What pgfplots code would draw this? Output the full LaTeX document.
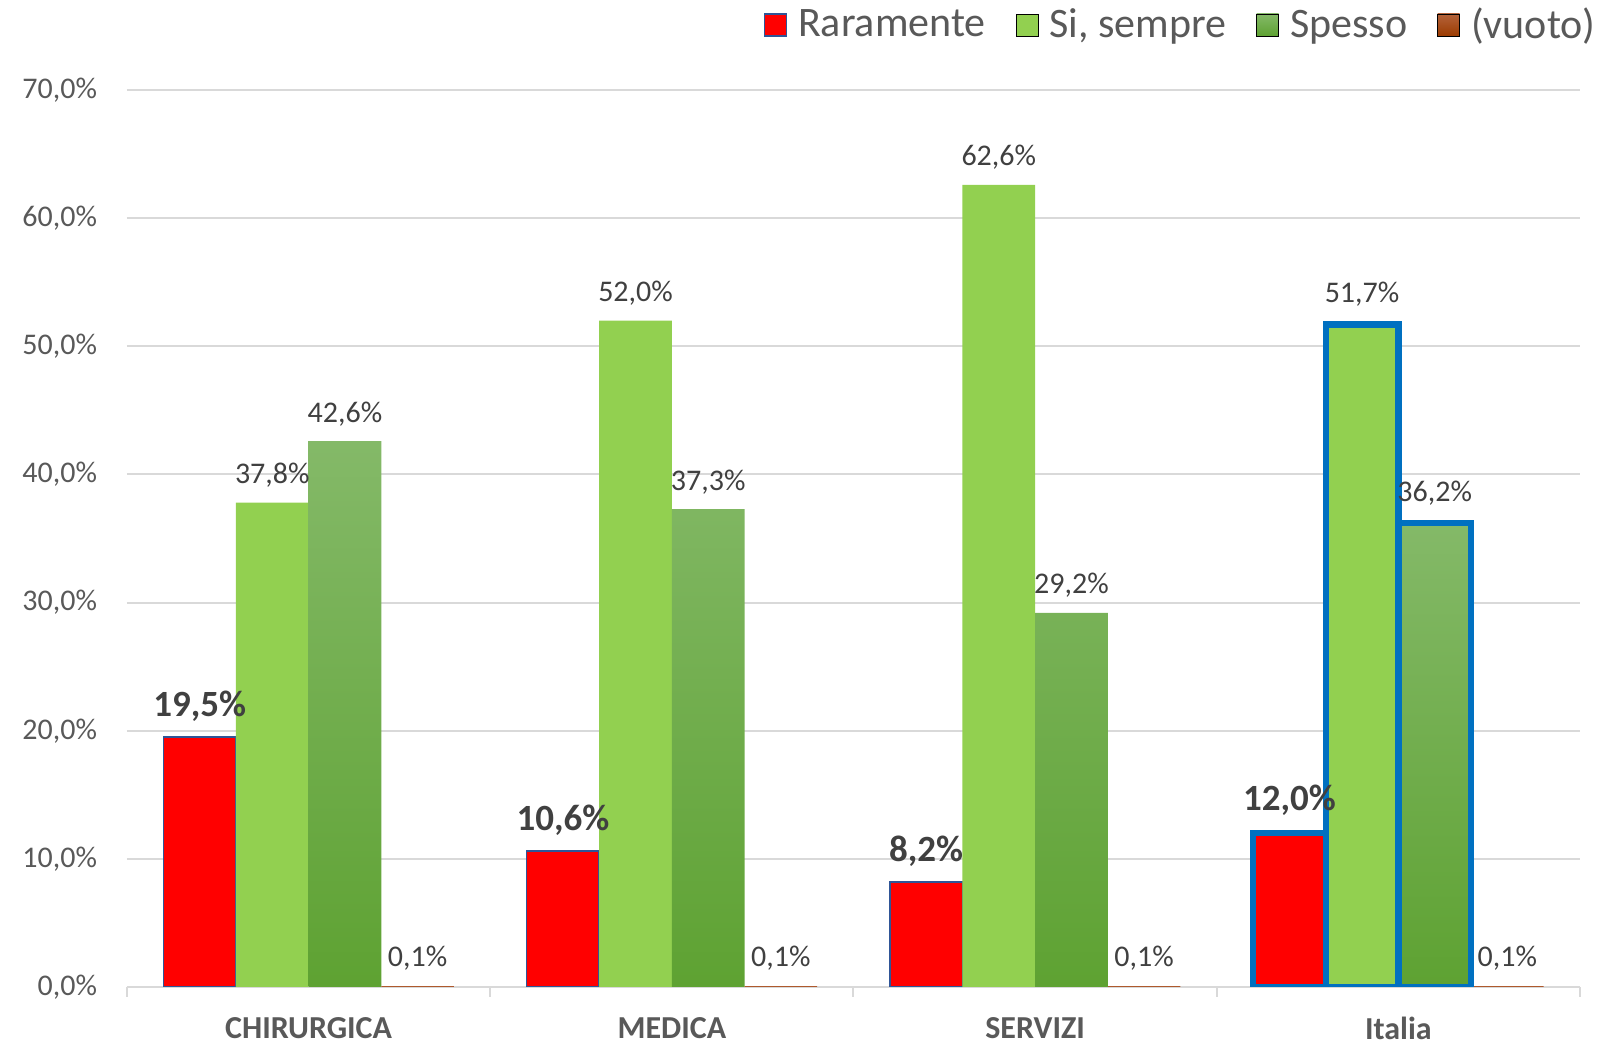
\documentclass[border=0pt]{standalone}
\usepackage{pgfplots}
\pgfplotsset{compat=1.18}
\usepackage{fontspec}
\setmainfont{Carlito}

\definecolor{rar}{HTML}{FF0000}
\definecolor{rarb}{HTML}{2F5597}
\definecolor{sem}{HTML}{92D050}
\definecolor{spT}{HTML}{84B968}
\definecolor{spB}{HTML}{5EA232}
\definecolor{vuT}{HTML}{B3623A}
\definecolor{vuB}{HTML}{9C3B00}
\definecolor{ita}{HTML}{0070C0}
\definecolor{gridc}{HTML}{D9D9D9}
\definecolor{txt}{HTML}{595959}
\definecolor{lbl}{HTML}{404040}

\begin{document}
\begin{tikzpicture}
\begin{axis}[
  scale only axis, width=726.5pt, height=448.5pt,
  xmin=-0.5, xmax=3.5, ymin=0, ymax=70,
  ybar, bar width=0.2,
  /pgf/number format/assume math mode=true,
  axis x line*=bottom, axis y line*=left,
  y axis line style={draw=none},
  x axis line style={draw=gridc, line width=1pt},
  tick align=outside,
  major tick length=0pt, minor tick length=5pt,
  xtick={0,1,2,3},
  xticklabels={CHIRURGICA,MEDICA,SERVIZI,Italia},
  minor xtick={-0.5,0.5,1.5,2.5,3.5},
  minor x tick style={draw=gridc, line width=1pt},
  x tick label style={font=\bfseries\fontsize{16}{16}\selectfont, text=txt, yshift=-11.5pt},
  ytick={0,10,...,70},
  yticklabel={\pgfmathprintnumber[fixed,fixed zerofill,precision=1,use comma]{\tick}\%},
  y tick label style={font=\fontsize{15}{15}\selectfont, text=txt, xshift=-11.5pt},
  ymajorgrids, grid style={draw=gridc, line width=1pt},
  nodes near coords={\pgfmathprintnumber[fixed,fixed zerofill,precision=1,use comma]{\pgfplotspointmeta}\%},
  nodes near coords style={font=\fontsize{15}{15}\selectfont, text=lbl, anchor=south, yshift=4pt},
  legend style={draw=none, fill=none, at={(rel axis cs:1,1)}, anchor=east,
    xshift=13pt, yshift=32.5pt, legend columns=-1,
    font=\fontsize{21}{21}\selectfont, text=txt,
    /tikz/every odd column/.append style={column sep=3.5pt},
    /tikz/every even column/.append style={column sep=13pt}},
  legend image code/.code={\draw[#1] (0pt,-5.5pt) rectangle (11pt,5.5pt);},
]
% Raramente
\addplot[bar shift=-0.3, fill=rar, draw=rarb, line width=0.8pt,
  nodes near coords style={font=\bfseries\fontsize{18.5}{18.5}\selectfont}]
  coordinates {(0,19.5) (1,10.6) (2,8.2)};
\addlegendentry{Raramente}
% Si, sempre
\addplot[bar shift=-0.1, fill=sem, draw=none]
  coordinates {(0,37.8) (1,52.0) (2,62.6)};
\addlegendentry{Si, sempre}
% Spesso
\addplot[bar shift=0.1, top color=spT, bottom color=spB, draw=none]
  coordinates {(0,42.6) (1,37.3) (2,29.2)};
\addlegendentry{Spesso}
% (vuoto)
\addplot[bar shift=0.3, top color=vuT, bottom color=vuB, draw=none]
  coordinates {(0,0.1) (1,0.1) (2,0.1) (3,0.1)};
\addlegendentry{(vuoto)}
% Italia, highlighted
\addplot[forget plot, bar shift=-0.3, fill=rar, draw=ita, line width=3.2pt,
  nodes near coords style={font=\bfseries\fontsize{18.5}{18.5}\selectfont}]
  coordinates {(3,12.0)};
\addplot[forget plot, bar shift=-0.1, fill=sem, draw=ita, line width=3.2pt]
  coordinates {(3,51.7)};
\addplot[forget plot, bar shift=0.1, top color=spT, bottom color=spB, draw=ita, line width=3.2pt]
  coordinates {(3,36.2)};
\end{axis}
\pgfresetboundingbox
\path[use as bounding box] (-63.5pt,-27.5pt) rectangle (748.5pt,493.5pt);
\end{tikzpicture}
\end{document}
